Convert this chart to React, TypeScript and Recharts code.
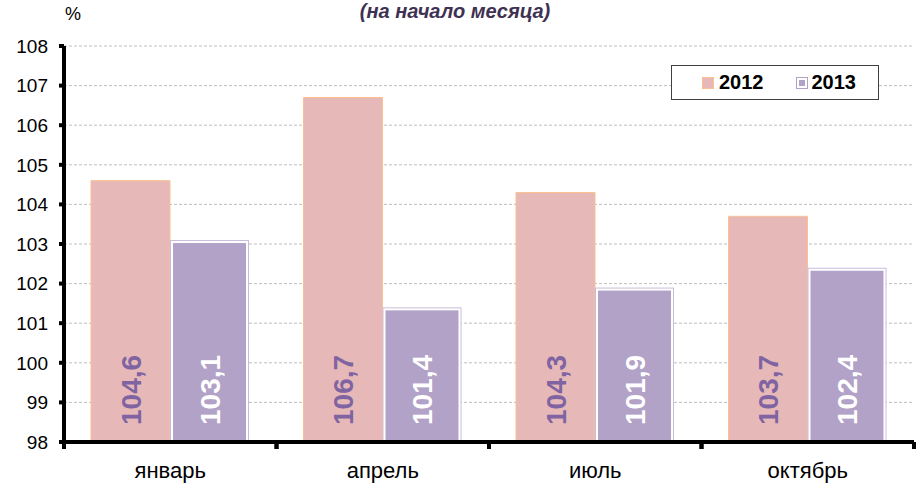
import React from "react";
import {
  BarChart,
  Bar,
  XAxis,
  YAxis,
  CartesianGrid,
  LabelList,
} from "recharts";

const categories = ["январь", "апрель", "июль", "октябрь"];
const values2012 = [104.6, 106.7, 104.3, 103.7];
const values2013 = [103.1, 101.4, 101.9, 102.4];
const yTicks = [98, 99, 100, 101, 102, 103, 104, 105, 106, 107, 108];

const data = categories.map((name, i) => ({
  name,
  y2012: values2012[i],
  y2013: values2013[i],
}));

const FONT = "Arial, 'Liberation Sans', sans-serif";
const W = 920;
const H = 487;
const M = { top: 46, right: 6, left: 8, bottom: 10 };
const Y_W = 56;
const band = (W - M.left - Y_W - M.right) / categories.length;

const fmt = (v: number) => v.toFixed(1).replace(".", ",");

const Shape2013 = (props: any) => {
  const { x, y, width, height } = props;
  return (
    <g>
      <rect
        x={x + 0.5}
        y={y + 0.5}
        width={width - 1}
        height={height - 0.5}
        fill="#fff"
        stroke="#C9BCDA"
      />
      <rect x={x + 3} y={y + 3} width={width - 6} height={height - 3} fill="#B3A2C7" />
    </g>
  );
};

const makeLabel = (color: string) => (props: any) => {
  const { x, y, width, height, value } = props;
  const cx = x + width / 2;
  const by = y + height - 17;
  return (
    <text
      x={cx}
      y={by}
      transform={`rotate(-90 ${cx} ${by})`}
      dy="0.36em"
      textAnchor="start"
      fill={color}
      fontFamily={FONT}
      fontWeight="bold"
      fontSize={28}
    >
      {fmt(Number(value))}
    </text>
  );
};

const XTick = (props: any) => {
  const { x, y, payload } = props;
  return (
    <g>
      <line x1={x - band / 2} y1={y} x2={x - band / 2} y2={y + 7} stroke="#000" strokeWidth={4} />
      <line x1={x + band / 2} y1={y} x2={x + band / 2} y2={y + 7} stroke="#000" strokeWidth={4} />
      <text x={x} y={y + 36} textAnchor="middle" fill="#000" fontFamily={FONT} fontSize={22}>
        {payload.value}
      </text>
    </g>
  );
};

// legend drawn as an overlay so it does not shrink the plot
const LegendBox = () => (
  <div
    style={{
      position: "absolute",
      left: 671,
      top: 65,
      width: 206,
      height: 33,
      border: "1.5px solid #404040",
      background: "#fff",
      display: "flex",
      alignItems: "center",
      fontFamily: FONT,
      fontWeight: "bold",
      fontSize: 20,
      color: "#000",
      boxSizing: "content-box",
    }}
  >
    <span
      style={{
        display: "inline-block",
        width: 10,
        height: 10,
        background: "#E6B9B8",
        border: "1px solid #FAC090",
        marginLeft: 30,
        marginRight: 5,
      }}
    />
    <span>2012</span>
    <span
      style={{
        display: "inline-block",
        width: 6,
        height: 6,
        background: "#B3A2C7",
        border: "2px solid #fff",
        outline: "1px solid #B3A2C7",
        marginLeft: 33,
        marginRight: 5,
      }}
    />
    <span>2013</span>
  </div>
);

export default function App() {
  return (
    <div style={{ position: "absolute", left: 0, top: 0, width: W, height: H, background: "#fff" }}>
      <BarChart
        width={W}
        height={H}
        data={data}
        margin={M}
        barCategoryGap={27}
        barGap={0}
      >
        <CartesianGrid
          vertical={false}
          horizontal
          stroke="#BFBFBF"
          strokeDasharray="3 2"
        />
        <XAxis
          dataKey="name"
          height={35}
          axisLine={{ stroke: "#000", strokeWidth: 4 }}
          tickLine={false}
          tickSize={0}
          tickMargin={0}
          tick={<XTick />}
          interval={0}
        />
        <YAxis
          width={Y_W}
          domain={[98, 108]}
          ticks={yTicks}
          interval={0}
          axisLine={{ stroke: "#000", strokeWidth: 4 }}
          tickLine={{ stroke: "#000", strokeWidth: 4 }}
          tickSize={5}
          tickMargin={11}
          tick={{ fill: "#000", fontFamily: FONT, fontSize: 19 }}
        />
        <Bar
          dataKey="y2012"
          fill="#E6B9B8"
          stroke="#FAC090"
          strokeWidth={1}
          isAnimationActive={false}
        >
          <LabelList dataKey="y2012" content={makeLabel("#8064A2")} />
        </Bar>
        <Bar dataKey="y2013" shape={<Shape2013 />} isAnimationActive={false}>
          <LabelList dataKey="y2013" content={makeLabel("#FFFFFF")} />
        </Bar>
      </BarChart>
      <div
        style={{
          position: "absolute",
          left: 340,
          top: 1,
          width: 230,
          textAlign: "center",
          fontFamily: FONT,
          fontWeight: "bold",
          fontStyle: "italic",
          fontSize: 20,
          lineHeight: "20px",
          color: "#3F3151",
          whiteSpace: "nowrap",
        }}
      >
        (на начало месяца)
      </div>
      <div
        style={{
          position: "absolute",
          left: 65,
          top: 4,
          fontFamily: FONT,
          fontSize: 18,
          color: "#000",
        }}
      >
        %
      </div>
      <LegendBox />
    </div>
  );
}
